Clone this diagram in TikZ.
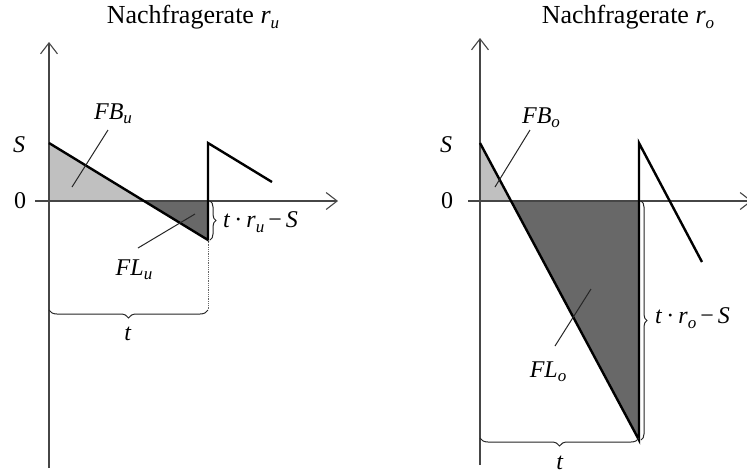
\documentclass[tikz,border=0pt]{standalone}
\usepackage{fontspec}
\setmainfont{Liberation Serif}
\usetikzlibrary{arrows.meta,decorations.pathreplacing}
\newcommand\lowsub[1]{\raisebox{-0.4ex}{\fontsize{17}{17}\selectfont\itshape #1}}
\definecolor{lightfill}{RGB}{192,192,192}
\definecolor{darkfill}{RGB}{104,104,104}
\definecolor{axisgray}{RGB}{70,70,70}
\begin{document}
\begin{tikzpicture}[x=1pt,y=-1pt,
  font=\fontsize{24}{28}\selectfont,
  axis/.style={draw=axisgray,line width=1.1pt,-{Straight Barb[length=11pt,width=17pt,line width=1.1pt]}},
  curve/.style={draw=black,line width=2.4pt,line join=miter},
  leader/.style={draw=black!85,line width=1pt},
  lbl/.style={inner sep=0pt},
  ttl/.style={inner sep=0pt,font=\fontsize{26}{30}\selectfont},
  bracev/.style={draw=black!85,line width=1pt,decorate,decoration={brace,amplitude=6pt}},
  braceh/.style={draw=black!85,line width=1pt,decorate,decoration={brace,amplitude=8pt}}]
\useasboundingbox (0,0) rectangle (747,475);
\fill[white] (0,0) rectangle (747,475);

% ---------- left panel ----------
\coordinate (Lo) at (49,201);
\coordinate (LS) at (49,143);
\coordinate (Lx) at (144,201);
\coordinate (Lb) at (208,201);
\coordinate (Lm) at (208,240);
\coordinate (Lt) at (208,143);
\coordinate (Le) at (272,182);
\coordinate (Lyb) at (49,468);
\coordinate (Lyt) at (49,42);
\coordinate (Lxl) at (35,201);
\coordinate (Lxr) at (338,201);
\coordinate (Lbr) at (208,310);
\coordinate (Lbl) at (49,310);

\fill[lightfill] (LS) -- (Lo) -- (Lx) -- cycle;
\fill[darkfill] (Lx) -- (Lb) -- (Lm) -- cycle;
\draw[axis] (Lxl) -- (Lxr);
\draw[axis] (Lyb) -- (Lyt);
\draw[curve] (LS) -- (Lm) -- (Lt) -- (Le);
\draw[black!60,densely dotted,line width=0.8pt] (Lm) -- (Lbr);

\node[ttl] (Ltitle) at (193,17) {Nachfragerate \textit{r}\lowsub{u}};
\node[lbl] (LSl) at (19,145) {\textit{S}};
\node[lbl] (L0) at (20,201) {0};
\node[lbl] (LFB) at (113,114) {\textit{FB}\lowsub{u}};
\node[lbl] (LFL) at (134,270) {\textit{FL}\lowsub{u}};
\coordinate (LFBa) at (108,130);
\coordinate (LFBb) at (72,187);
\coordinate (LFLa) at (138,248);
\coordinate (LFLb) at (195,214);
\draw[leader] (LFBa) -- (LFBb);
\draw[leader] (LFLa) -- (LFLb);

\coordinate (Lvb1) at (210,201);
\coordinate (Lvb2) at (210,240);
\draw[bracev] (Lvb1) -- (Lvb2);
\node[lbl,anchor=west] (Lrl) at (223,222) {\textit{t}\,\textperiodcentered\,\textit{r}\lowsub{u}\,−\,\textit{S}};
\draw[braceh] (Lbr) -- (Lbl);
\node[lbl] (Lt_l) at (128,334) {\textit{t}};

% ---------- right panel ----------
\coordinate (Ro) at (480,201);
\coordinate (RS) at (480,143);
\coordinate (Rx) at (511,201);
\coordinate (Rb) at (639,201);
\coordinate (Rm) at (639,440);
\coordinate (Rt) at (639,143);
\coordinate (Re) at (702,262);
\coordinate (Ryb) at (480,465);
\coordinate (Ryt) at (480,38);
\coordinate (Rxl) at (468,201);
\coordinate (Rxr) at (752,201);
\coordinate (Rbr) at (639,438);
\coordinate (Rbl) at (480,438);

\fill[lightfill] (RS) -- (Ro) -- (Rx) -- cycle;
\fill[darkfill] (Rx) -- (Rb) -- (Rm) -- cycle;
\draw[axis] (Rxl) -- (Rxr);
\draw[axis] (Ryb) -- (Ryt);
\draw[curve] (RS) -- (Rm) -- (Rt) -- (Re);

\node[ttl] (Rtitle) at (628,17) {Nachfragerate \textit{r}\lowsub{o}};
\node[lbl] (RSl) at (446,145) {\textit{S}};
\node[lbl] (R0) at (447,201) {0};
\node[lbl] (RFB) at (541,118) {\textit{FB}\lowsub{o}};
\node[lbl] (RFL) at (548,372) {\textit{FL}\lowsub{o}};
\coordinate (RFBa) at (530,130);
\coordinate (RFBb) at (495,187);
\coordinate (RFLa) at (591,289);
\coordinate (RFLb) at (555,346);
\draw[leader] (RFBa) -- (RFBb);
\draw[leader] (RFLa) -- (RFLb);

\coordinate (Rvb1) at (641,201);
\coordinate (Rvb2) at (641,440);
\draw[bracev] (Rvb1) -- (Rvb2);
\node[lbl,anchor=west] (Rrl) at (655,318) {\textit{t}\,\textperiodcentered\,\textit{r}\lowsub{o}\,−\,\textit{S}};
\draw[braceh] (Rbr) -- (Rbl);
\node[lbl] (Rt_l) at (560,463) {\textit{t}};
\end{tikzpicture}
\end{document}
